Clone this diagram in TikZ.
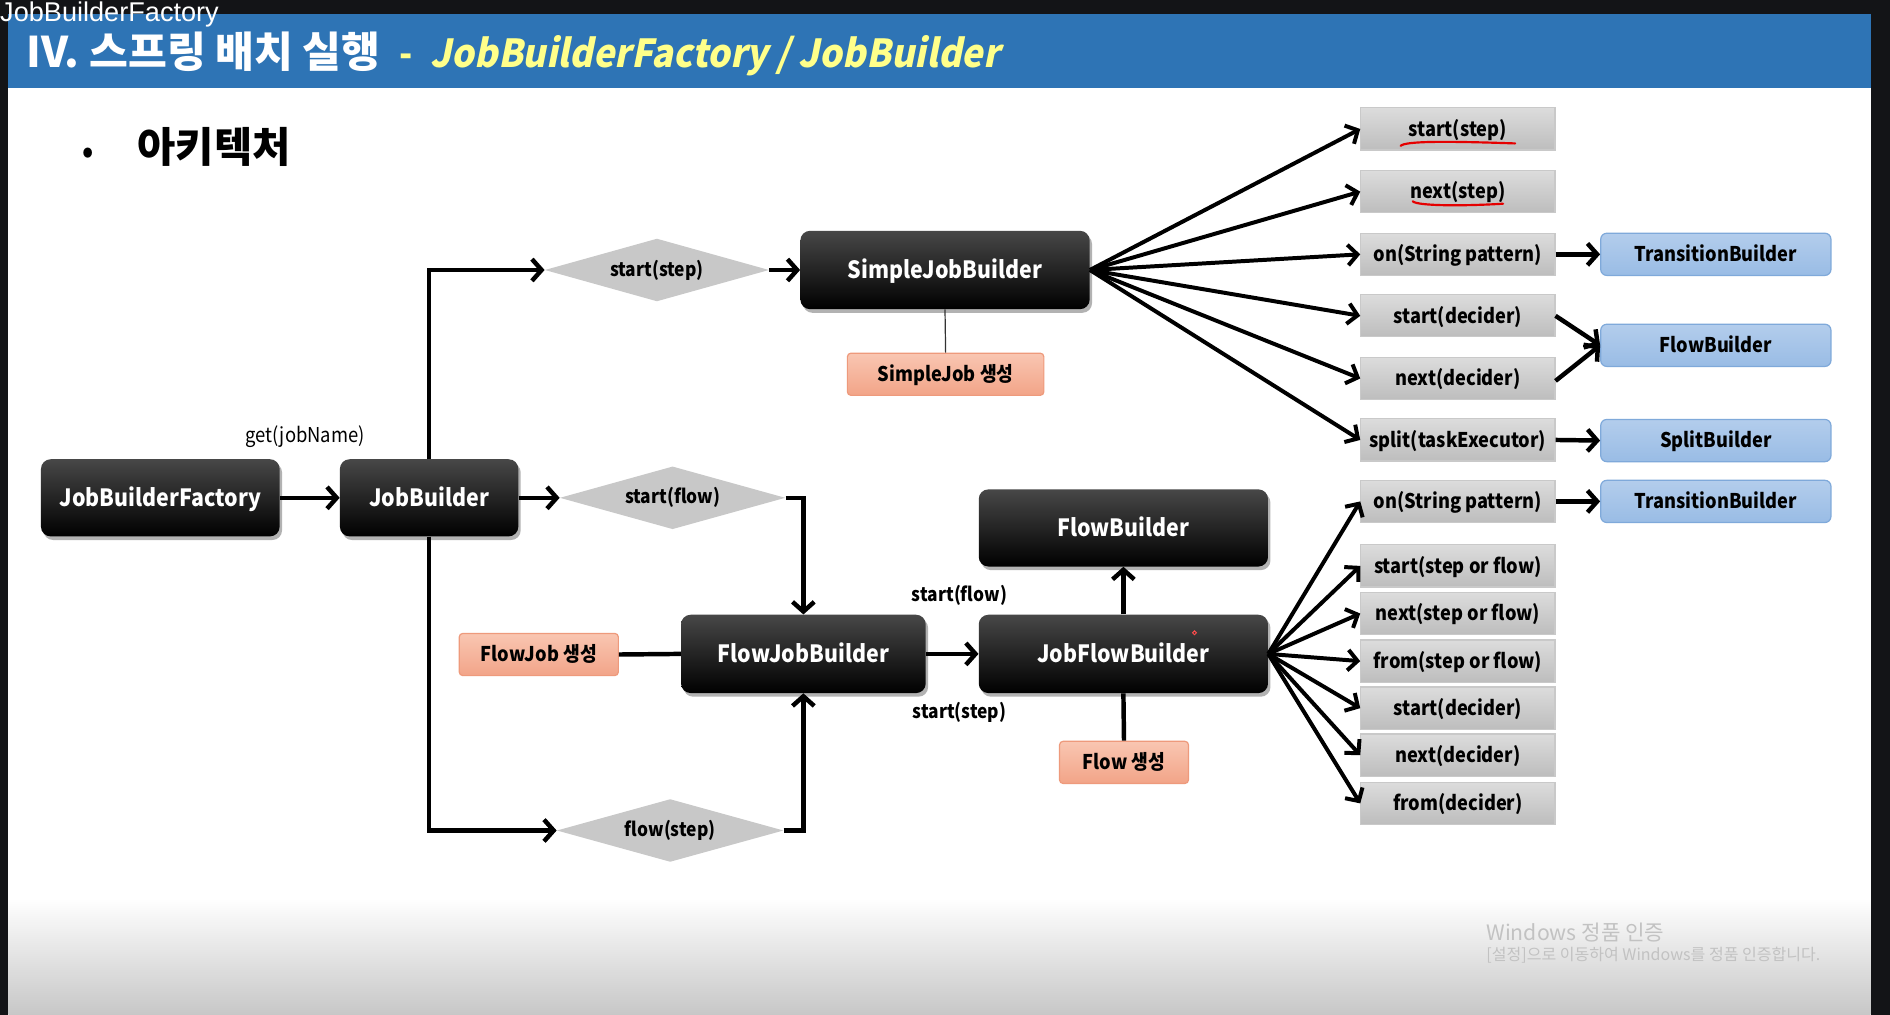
\documentclass[tikz,border=0pt]{standalone}
\usepackage{fontspec}
\setmainfont{Noto Sans CJK KR}[FakeStretch=0.9]
\newfontfamily\titleit{Noto Sans CJK KR}[FakeStretch=0.93,FakeSlant=0.2]
\newfontfamily\wide{Noto Sans CJK KR}
\newfontfamily\arialf{Liberation Sans}
\usetikzlibrary{arrows.meta,shapes.geometric,shadows}
\definecolor{frame}{HTML}{131417}
\definecolor{bandblue}{HTML}{2E74B5}
\definecolor{ttlyel}{HTML}{FFFF8A}
\definecolor{salmonA}{HTML}{F9C6B2}
\definecolor{salmonB}{HTML}{F2A488}
\definecolor{salmonD}{HTML}{EE9A7C}
\definecolor{grayA}{HTML}{DCDCDC}
\definecolor{grayB}{HTML}{BDBDBD}
\definecolor{grayD}{HTML}{C9C9C9}
\definecolor{blueA}{HTML}{B3CDEC}
\definecolor{blueB}{HTML}{99BCE5}
\definecolor{blueD}{HTML}{7FA9DA}
\definecolor{dia}{HTML}{C8C8C8}
\definecolor{wm}{HTML}{C2C2C2}
\newcommand\myfs[1]{\fontsize{#1}{#1}\selectfont}
\tikzset{
  bk/.style={rounded corners=8pt, top color=black!72, middle color=black, bottom color=black,
    text=white, font=\bfseries\myfs{19.7}, inner sep=0pt, text height=14.2pt, text depth=0pt,
    drop shadow={shadow xshift=2pt, shadow yshift=-3pt, opacity=0.3, fill=black}},
  dm/.style={diamond, fill=dia, inner sep=0pt, aspect=3.6, font=\bfseries\myfs{16}},
  sal/.style={rounded corners=3pt, top color=salmonA, bottom color=salmonB, draw=salmonD,
    line width=1pt, font=\bfseries\myfs{16.8}, inner sep=0pt, minimum height=35pt,
    text height=12pt, text depth=0pt},
  gb/.style={top color=grayA, bottom color=grayB, draw=grayD, line width=1pt,
    font=\bfseries\myfs{16.8}, inner sep=0pt, minimum width=161pt, minimum height=35pt,
    text height=12pt, text depth=0pt},
  bb/.style={rounded corners=5pt, top color=blueA, bottom color=blueB, draw=blueD, line width=1pt,
    font=\bfseries\myfs{16.8}, inner sep=0pt, minimum width=191pt, minimum height=35pt,
    text height=12pt, text depth=0pt},
  arr/.style={line width=3.7pt, -{Straight Barb[length=8pt,width=18pt]}},
  farr/.style={line width=3.3pt, -{Straight Barb[length=8pt,width=17pt]}},
  ln/.style={line width=3.7pt},
  lbl/.style={font=\bfseries\myfs{16}, inner sep=0pt},
}
\begin{document}
\begin{tikzpicture}[x=1pt,y=-1pt]
\useasboundingbox (0,0) rectangle (1568,842);
% frame and slide
\fill[frame] (0,0) rectangle (1568,842);
\fill[white] (7,12) rectangle (1552,842);
\shade[top color=white, bottom color=black!22] (7,745) rectangle (1552,842);
\fill[bandblue] (7,12) rectangle (1552,73);
\node[anchor=base west, inner sep=0pt, text=white, font=\arialf\myfs{22.5}] (ttop) at (0,18) {JobBuilderFactory};
\node[anchor=base west, inner sep=0pt, text=white, font=\wide\bfseries\myfs{35}] (title) at (22,56) {IV. 스프링 배치 실행};
\node[anchor=base west, inner sep=0pt, text=ttlyel, font=\bfseries\myfs{32}] (dash) at (331,56) {-};
\node[anchor=base west, inner sep=0pt, text=ttlyel, font=\titleit\bfseries\myfs{32}] (titleb) at (357,56) {JobBuilderFactory / JobBuilder};
\node[anchor=base west, inner sep=0pt, font=\bfseries\myfs{26}] (bullet) at (68,135) {•};
\node[anchor=base west, inner sep=0pt, font=\wide\bfseries\myfs{34.5}] (arch) at (114,135) {아키텍처};

% black builders
\node[bk, minimum width=198pt, minimum height=64pt] (jbf) at (133,413) {JobBuilderFactory};
\node[bk, minimum width=148pt, minimum height=64pt] (jb) at (356,413) {JobBuilder};
\node[bk, minimum width=240pt, minimum height=65pt] (sjb) at (784,224) {SimpleJobBuilder};
\node[bk, minimum width=203pt, minimum height=65pt] (fjb) at (666.5,542.5) {FlowJobBuilder};
\node[bk, minimum width=240pt, minimum height=65pt] (jfb) at (932,542.5) {JobFlowBuilder};
\node[bk, minimum width=240pt, minimum height=64pt] (fb) at (932,438) {FlowBuilder};

% diamonds
\node[dm, minimum width=186pt, minimum height=52pt] (ds) at (545,224) {start(step)};
\node[dm, minimum width=187pt, minimum height=52pt] (dfl) at (558,413) {start(flow)};
\node[dm, minimum width=188pt, minimum height=52pt] (dfs) at (556,689) {flow(step)};

% salmon
\node[sal, minimum width=163pt] (sj) at (784.5,310.5) {SimpleJob 생성};
\node[sal, minimum width=132pt] (fj) at (447,543) {FlowJob 생성};
\node[sal, minimum width=107pt] (fl) at (932.5,632.5) {Flow 생성};

% labels
\node[inner sep=0pt, font=\myfs{17}] (getl) at (253,362) {get(jobName)};
\node[lbl] (sfl) at (796,494) {start(flow)};
\node[lbl] (sst) at (796,591) {start(step)};

% upper gray
\node[gb] (u1) at (1209.5,107) {start(step)};
\node[gb] (u2) at (1209.5,159) {next(step)};
\node[gb] (u3) at (1209.5,211) {on(String pattern)};
\node[gb] (u4) at (1209.5,262) {start(decider)};
\node[gb] (u5) at (1209.5,314) {next(decider)};
\node[gb] (u6) at (1209.5,365) {split(taskExecutor)};
% lower gray
\node[gb] (l1) at (1209.5,416) {on(String pattern)};
\node[gb] (l2) at (1209.5,469.5) {start(step or flow)};
\node[gb] (l3) at (1209.5,509) {next(step or flow)};
\node[gb] (l4) at (1209.5,548.5) {from(step or flow)};
\node[gb] (l5) at (1209.5,587.5) {start(decider)};
\node[gb] (l6) at (1209.5,626.5) {next(decider)};
\node[gb] (l7) at (1209.5,666.5) {from(decider)};
% blue
\node[bb] (b1) at (1423.5,211) {TransitionBuilder};
\node[bb] (b2) at (1423.5,286.5) {FlowBuilder};
\node[bb] (b3) at (1423.5,365.5) {SplitBuilder};
\node[bb] (b4) at (1423.5,416) {TransitionBuilder};

% red underlines
\draw[red!90!black, line width=1.8pt, line cap=round] (1162,121) .. controls (1166,117) and (1200,117) .. (1257,119);
\draw[red!90!black, line width=1.8pt, line cap=round] (1172,167) .. controls (1176,171) and (1215,171) .. (1247,169);

% connectors
\draw[arr] (jbf.east) -- (jb.west);
\draw[arr] (jb.north) |- (ds.west);
\draw[arr] (jb.east) -- (dfl.west);
\draw[arr] (jb.south) |- (dfs.west);
\draw[arr] (ds.east) -- (sjb.west);
\draw[arr] (dfl.east) -| (fjb.north);
\draw[arr] (dfs.east) -| (fjb.south);
\draw[ln] (fj.east) -- (fjb.west);
\draw[arr] (fjb.east) -- (jfb.west);
\draw[arr] (jfb.north) -- (fb.south);
\draw[ln] (jfb.south) -- (fl.north);
\draw[line width=1pt, black!80] (sjb.south) -- (sj.north);

\foreach \t in {u1,u2,u3,u4,u5,u6} \draw[farr] (sjb.east) -- (\t.west);
\foreach \t in {l1,l2,l3,l4,l5,l6,l7} \draw[farr] (jfb.east) -- (\t.west);

\draw[arr] (u3.east) -- (b1.west);
\draw[arr] (u4.east) -- (b2.west);
\draw[arr] ([yshift=-2pt]u5.east) -- (b2.west);
\draw[arr] (u6.east) -- (b3.west);
\draw[arr] (l1.east) -- (b4.west);

% cursor dot
\draw[red!70, line width=0.8pt] (991,525) circle (1.6);

% watermark
\node[anchor=base west, inner sep=0pt, text=wm, font=\wide\myfs{17.6}] (wm1) at (1233,780) {Windows 정품 인증};
\node[anchor=base west, inner sep=0pt, text=wm, font=\wide\myfs{13.3}] (wm2) at (1233,797) {[설정]으로 이동하여 Windows를 정품 인증합니다.};
\end{tikzpicture}
\end{document}
